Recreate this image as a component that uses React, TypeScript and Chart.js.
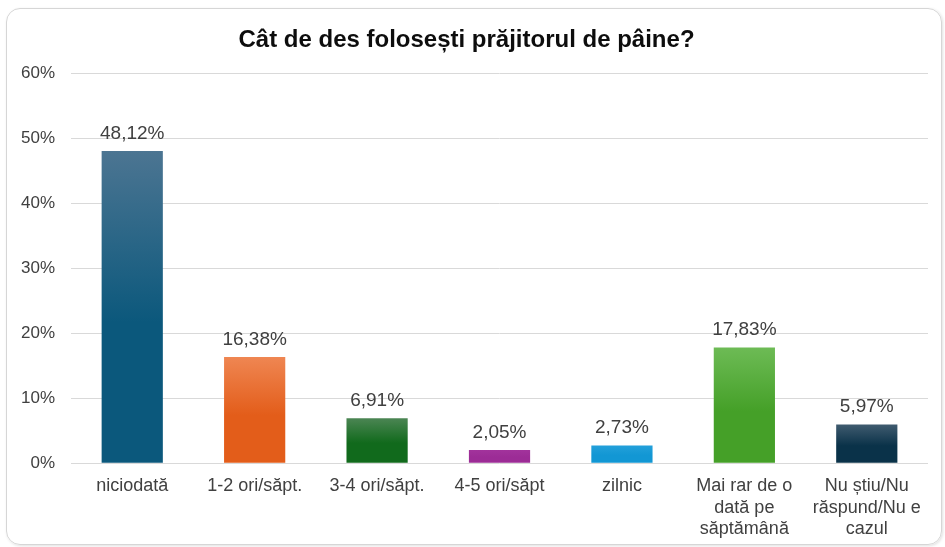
import React, { useEffect, useRef } from "react";
import { Chart, registerables } from "chart.js";

Chart.register(...registerables);

const TITLE = "Cât de des folosești prăjitorul de pâine?";
const categories: (string | string[])[] = [
  "niciodată",
  "1-2 ori/săpt.",
  "3-4 ori/săpt.",
  "4-5 ori/săpt",
  "zilnic",
  ["Mai rar de o", "dată pe", "săptămână"],
  ["Nu știu/Nu", "răspund/Nu e", "cazul"],
];
const values = [48.12, 16.38, 6.91, 2.05, 2.73, 17.83, 5.97];
const topColors = ["#4c7592", "#ef8652", "#4b8553", "#a2339c", "#23a0da", "#6dbb55", "#405b6f"];
const bottomColors = ["#0b587c", "#e35d1a", "#116a1c", "#9c2c96", "#1297d4", "#45a028", "#0a3249"];
const yTicks = [0, 10, 20, 30, 40, 50, 60];

const FONT = "'Liberation Sans', Arial, sans-serif";

const fmt = (v: number) => v.toFixed(2).replace(".", ",") + "%";

const dataLabelPlugin = {
  id: "dataLabels",
  afterDatasetsDraw(chart: any) {
    const ctx = chart.ctx;
    const meta = chart.getDatasetMeta(0);
    ctx.save();
    ctx.font = `19px ${FONT}`;
    ctx.fillStyle = "#404040";
    ctx.textAlign = "center";
    ctx.textBaseline = "alphabetic";
    meta.data.forEach((el: any, i: number) => {
      ctx.fillText(fmt(values[i]), el.x, el.y - 12);
    });
    ctx.restore();
  },
};

export default function App() {
  const ref = useRef<HTMLCanvasElement | null>(null);

  useEffect(() => {
    if (!ref.current) return;
    const chart = new Chart(ref.current, {
      type: "bar",
      data: {
        labels: categories,
        datasets: [
          {
            data: values,
            barPercentage: 0.5,
            categoryPercentage: 1,
            backgroundColor: (c: any) => {
              const i = c.dataIndex;
              const ch = c.chart;
              if (!ch.chartArea || i === undefined) return bottomColors[i ?? 0];
              const y = ch.scales.y;
              const y0 = y.getPixelForValue(values[i]);
              const y1 = y.getPixelForValue(0);
              const g = ch.ctx.createLinearGradient(0, y0, 0, y1);
              g.addColorStop(0, topColors[i]);
              g.addColorStop(0.55, bottomColors[i]);
              g.addColorStop(1, bottomColors[i]);
              return g;
            },
            borderWidth: 0,
          },
        ],
      },
      options: {
        responsive: false,
        animation: false,
        layout: { padding: { left: 5, right: 17, top: 0, bottom: -5 } },
        plugins: {
          legend: { display: false },
          tooltip: { enabled: false },
          title: {
            display: true,
            text: TITLE,
            color: "#0d0d0d",
            font: { family: FONT, size: 24, weight: "bold" },
            padding: { top: 26, bottom: 19 },
          },
        },
        scales: {
          x: {
            grid: { display: false, drawTicks: false },
            border: { display: false },
            ticks: {
              color: "#404040",
              font: { family: FONT, size: 18, lineHeight: 1.2 },
              padding: 12,
              maxRotation: 0,
              autoSkip: false,
            },
          },
          y: {
            min: 0,
            max: 60,
            grid: { color: "#d9d9d9", lineWidth: 1, drawTicks: false },
            border: { display: false },
            afterBuildTicks: (s: any) => {
              s.ticks = yTicks.map((v) => ({ value: v }));
            },
            ticks: {
              color: "#404040",
              font: { family: FONT, size: 17 },
              padding: 16,
              callback: (v: any) => v + "%",
            },
          },
        },
      },
      plugins: [dataLabelPlugin],
    } as any);
    return () => chart.destroy();
  }, []);

  return (
    <div style={{ position: "fixed", left: 0, top: 0, width: 945, height: 547, background: "#fff" }}>
      <div
        style={{
          position: "absolute",
          left: 6,
          top: 8,
          width: 936,
          height: 537,
          border: "1px solid #d6d6d6",
          borderRadius: 14,
          boxSizing: "border-box",
          boxShadow: "1px 1px 3px rgba(0,0,0,0.12)",
        }}
      />
      <canvas ref={ref} width={945} height={547} style={{ position: "absolute", left: 0, top: 0 }} />
    </div>
  );
}
